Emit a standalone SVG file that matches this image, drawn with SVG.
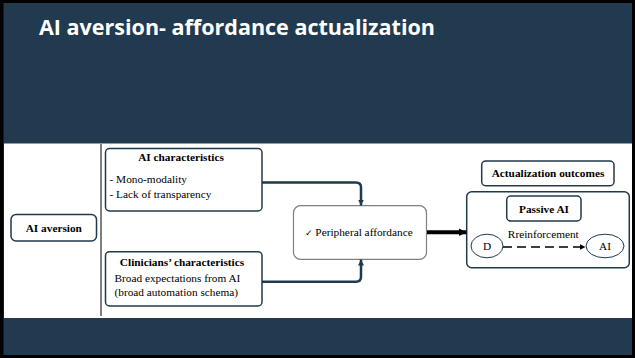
<svg xmlns="http://www.w3.org/2000/svg" width="635" height="358" viewBox="0 0 635 358">
  <style>
    .box { fill: #ffffff; stroke: #1f3a4d; stroke-width: 1.5; }
    .soft { fill: #ffffff; stroke: #808080; stroke-width: 1.2; }
    .t { font-size: 11.3px; fill: #000; }
    .b { font-weight: bold; }
    .conn { fill: none; stroke: #1f3a4d; stroke-width: 2.5; }
  </style>
  <defs>
    <marker id="ahDark" viewBox="0 0 10 10" refX="10" refY="5" markerUnits="userSpaceOnUse" markerWidth="6" markerHeight="6" orient="auto">
      <path d="M0,0 L10,5 L0,10 Z" fill="#1f3a4d"/>
    </marker>
    <marker id="ahBlack" viewBox="0 0 10 10" refX="10" refY="5" markerUnits="userSpaceOnUse" markerWidth="8" markerHeight="9" orient="auto">
      <path d="M0,0 L10,5 L0,10 Z" fill="#000"/>
    </marker>
    <marker id="ahSmall" viewBox="0 0 10 10" refX="10" refY="5" markerUnits="userSpaceOnUse" markerWidth="6" markerHeight="6" orient="auto">
      <path d="M0,0 L10,5 L0,10 Z" fill="#000"/>
    </marker>
  </defs>

  <!-- frame and background -->
  <rect x="0" y="0" width="635" height="358" fill="#000"/>
  <rect x="3.5" y="3" width="628.5" height="352" fill="#213a4f"/>
  <rect x="4" y="143.5" width="628" height="174.5" fill="#ffffff"/>
  <line x1="101" y1="144" x2="101" y2="316" stroke="#000" stroke-width="1"/>

  <text x="39" y="35" font-family="'Open Sans', 'Liberation Sans', sans-serif" font-weight="bold" font-size="22" fill="#ffffff" textLength="396" lengthAdjust="spacingAndGlyphs">AI aversion- affordance actualization</text>

  <g font-family="'Liberation Serif', 'Times New Roman', 'DejaVu Serif', serif">
  <g id="ai-aversion">
    <rect class="box" x="11" y="214.5" width="85.5" height="26.5" rx="5"/>
    <text class="t b" x="53.8" y="231.8" text-anchor="middle">AI aversion</text>
  </g>

  <g id="ai-characteristics">
    <rect class="box" x="105.5" y="148.5" width="156.5" height="62.5" rx="4"/>
    <text class="t b" x="181" y="161" text-anchor="middle">AI characteristics</text>
    <text class="t" x="109.5" y="182.5" font-size="10.4">- Mono-modality</text>
    <text class="t" x="109.5" y="197.5" font-size="10.4">- Lack of transparency</text>
  </g>

  <g id="clinicians-characteristics">
    <rect class="box" x="105.5" y="251.7" width="156.5" height="54.3" rx="4"/>
    <text class="t b" x="182" y="265.7" text-anchor="middle">Clinicians’ characteristics</text>
    <text class="t" x="114.5" y="281.7">Broad expectations from AI</text>
    <text class="t" x="114.5" y="296">(broad automation schema)</text>
  </g>

  <g id="peripheral-affordance">
    <rect class="soft" x="293.5" y="205.7" width="133" height="53.6" rx="7"/>
    <text class="t" x="305" y="235.5"><tspan font-family="'DejaVu Sans', sans-serif" font-size="9">✓</tspan> Peripheral affordance</text>
  </g>

  <g id="actualization-outcomes">
    <rect class="box" x="481.7" y="161" width="132.3" height="24.7" rx="4"/>
    <text class="t b" x="548" y="177" text-anchor="middle">Actualization outcomes</text>
  </g>

  <g id="outcome-panel">
    <rect class="box" x="466.7" y="191.7" width="162.6" height="76" rx="5"/>
  </g>

  <g id="passive-ai">
    <rect class="box" x="506.7" y="196" width="74.3" height="25" rx="4"/>
    <text class="t b" x="544" y="212.7" text-anchor="middle">Passive AI</text>
  </g>

  <text class="t" x="543.3" y="238.3" text-anchor="middle">Rreinforcement</text>

  <g id="node-d">
    <ellipse cx="487" cy="246" rx="16" ry="11.8" fill="#fff" stroke="#1f3a4d" stroke-width="1"/>
    <text class="t" x="487" y="250" text-anchor="middle">D</text>
  </g>

  <g id="node-ai">
    <ellipse cx="605" cy="246" rx="19" ry="11.8" fill="#fff" stroke="#1f3a4d" stroke-width="1"/>
    <text class="t" x="605" y="250" text-anchor="middle">AI</text>
  </g>
  </g>

  <!-- connectors -->
  <g id="connectors">
    <path class="conn" d="M262,182.5 H356 Q361,182.5 361,187.5 V205.5" marker-end="url(#ahDark)"/>
    <path class="conn" d="M262,281.7 H356 Q361,281.7 361,276.7 V259.5" marker-end="url(#ahDark)"/>
    <line x1="427" y1="232.3" x2="466.5" y2="232.3" stroke="#000" stroke-width="4" marker-end="url(#ahBlack)"/>
    <line x1="503" y1="247" x2="585.5" y2="247" stroke="#000" stroke-width="1.5" stroke-dasharray="9,5" marker-end="url(#ahSmall)"/>
  </g>
</svg>
